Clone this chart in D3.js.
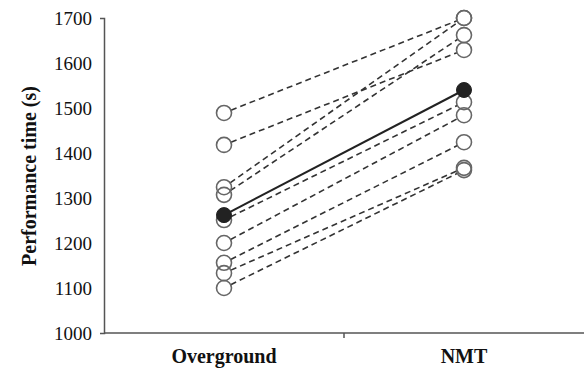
<!DOCTYPE html>
<html>
<head>
<meta charset="utf-8">
<script src="https://cdn.jsdelivr.net/npm/d3@7"></script>
<style>
  body { margin: 0; background: #fff; }
  svg { display: block; }
  text { font-family: "Liberation Serif", "Times New Roman", serif; fill: #111; }
</style>
</head>
<body>
<svg id="chart" width="584" height="372"></svg>
<script>
const categories = ["Overground", "NMT"];
const overground = [1489, 1418, 1324, 1307, 1251, 1200, 1156, 1133, 1100];
const nmt        = [1700, 1629, 1700, 1662, 1513, 1484, 1424, 1367, 1362];
const meanValues = [1262, 1540];
const yTicks = [1000, 1100, 1200, 1300, 1400, 1500, 1600, 1700];
const yTitle = "Performance time (s)";

const svg = d3.select("#chart");
const x = d3.scaleBand().domain(categories).range([104, 584]).padding(0);
const y = d3.scaleLinear().domain([1000, 1700]).range([333, 18]);
const cx = c => x(c) + x.bandwidth() / 2;
const r = 7.5;

// Y axis
const yAxis = d3.axisLeft(y).tickValues(yTicks).tickFormat(d3.format("d"))
  .tickSizeInner(0).tickSizeOuter(4).tickPadding(12);
const gy = svg.append("g").attr("transform", "translate(104,0)").call(yAxis);
gy.select(".domain").attr("stroke", "#555").attr("stroke-width", 1.5);
gy.selectAll(".tick text").attr("font-size", 19).attr("font-family", "Liberation Serif").attr("fill", "#111");

// X axis
const gx = svg.append("g").attr("transform", "translate(0,333)");
gx.append("line").attr("x1", 104).attr("x2", 584).attr("y1", 0).attr("y2", 0)
  .attr("stroke", "#555").attr("stroke-width", 1.5);
gx.append("line").attr("x1", x("NMT")).attr("x2", x("NMT")).attr("y1", 0).attr("y2", 5)
  .attr("stroke", "#555").attr("stroke-width", 1.5);
gx.selectAll("text.cat").data(categories).join("text").attr("class", "cat")
  .attr("x", d => cx(d)).attr("y", 30).attr("text-anchor", "middle")
  .attr("font-size", 20).attr("font-weight", "bold").text(d => d);

// Y title
svg.append("text").attr("transform", "translate(36,176) rotate(-90)")
  .attr("text-anchor", "middle").attr("font-size", 20).attr("font-weight", "bold")
  .text(yTitle);

// trimmed line helper
function trimmed(x1, y1, x2, y2) {
  const dx = x2 - x1, dy = y2 - y1, L = Math.hypot(dx, dy);
  const ux = dx / L, uy = dy / L;
  return [x1 + ux * r, y1 + uy * r, x2 - ux * r, y2 - uy * r];
}

const pairs = overground.map((v, i) => [v, nmt[i]]);
svg.append("g").selectAll("line").data(pairs).join("line")
  .each(function(d) {
    const t = trimmed(cx("Overground"), y(d[0]), cx("NMT"), y(d[1]));
    d3.select(this).attr("x1", t[0]).attr("y1", t[1]).attr("x2", t[2]).attr("y2", t[3]);
  })
  .attr("stroke", "#333").attr("stroke-width", 1.6).attr("stroke-dasharray", "6,4");

// mean line
svg.append("line")
  .attr("x1", cx("Overground")).attr("y1", y(meanValues[0]))
  .attr("x2", cx("NMT")).attr("y2", y(meanValues[1]))
  .attr("stroke", "#222").attr("stroke-width", 2);

// open circles
const pts = [];
overground.forEach(v => pts.push([cx("Overground"), y(v)]));
nmt.forEach(v => pts.push([cx("NMT"), y(v)]));
svg.append("g").selectAll("circle").data(pts).join("circle")
  .attr("cx", d => d[0]).attr("cy", d => d[1]).attr("r", r)
  .attr("fill", "none").attr("stroke", "#666").attr("stroke-width", 1.6);

// mean points
svg.append("g").selectAll("circle").data(meanValues).join("circle")
  .attr("cx", (d, i) => cx(categories[i])).attr("cy", d => y(d)).attr("r", r)
  .attr("fill", "#222").attr("stroke", "#222");
</script>
</body>
</html>
